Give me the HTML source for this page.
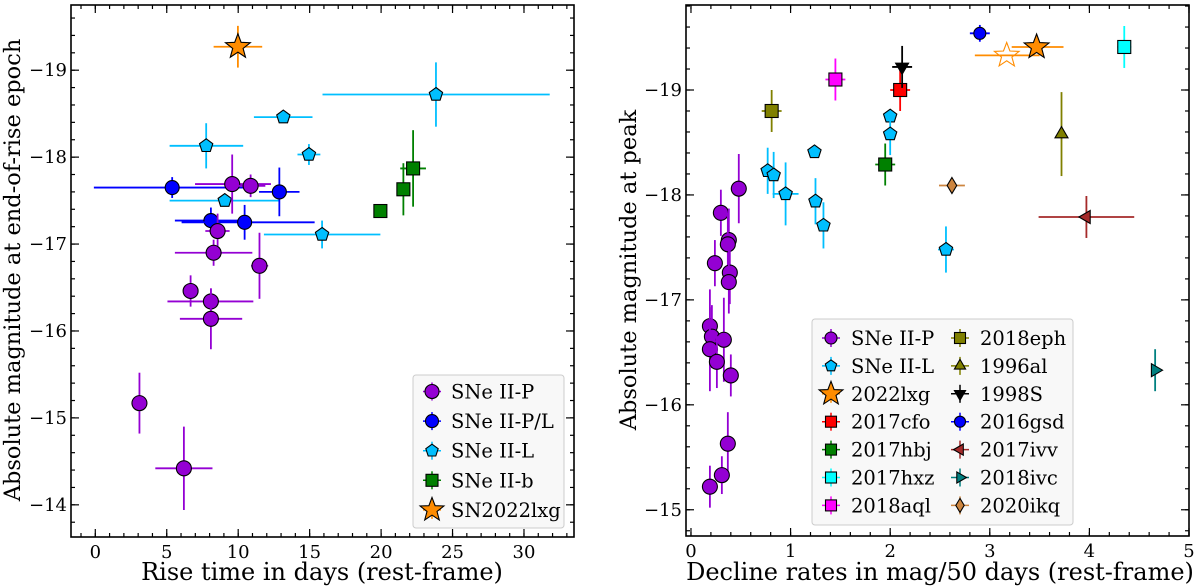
<!DOCTYPE html>
<html><head><meta charset="utf-8"><style>
body{margin:0;background:#fff;}
svg{display:block;font-family:"DejaVu Serif","Liberation Serif",serif;}
</style></head><body>
<svg id="fig" width="1200" height="586" viewBox="0 0 1200 586" xmlns="http://www.w3.org/2000/svg"></svg>
<script>
// ---------- LEFT PANEL DATA (rise time, end-of-rise magnitude) ----------
const lP_x=[9.58,10.87,8.56,8.28,11.49,6.67,8.09,8.09,3.09,6.2];
const lP_y=[-17.69,-17.67,-17.15,-16.90,-16.75,-16.46,-16.34,-16.14,-15.17,-14.42];
const lP_xlo=[6.98,9.9,7.7,5.57,10.9,6.67,5.05,5.92,3.09,4.2];
const lP_xhi=[12.29,11.9,9.4,10.99,12.1,6.67,11.06,10.28,3.09,8.2];
const lP_ye=[0.34,0.13,0.2,0.15,0.38,0.18,0.15,0.35,0.35,0.48];
const lPL_x=[5.38,12.88,8.09,10.45];
const lPL_y=[-17.65,-17.60,-17.27,-17.25];
const lPL_xlo=[-0.1,11.46,5.57,6.04];
const lPL_xhi=[10.75,14.29,10.5,15.35];
const lPL_ye=[0.12,0.28,0.15,0.2];
const lL_x=[23.84,13.16,7.76,14.95,9.06,15.87];
const lL_y=[-18.72,-18.46,-18.13,-18.03,-17.50,-17.11];
const lL_xlo=[15.9,11.1,5.2,14.15,5.2,11.8];
const lL_xhi=[31.8,15.2,10.35,15.75,12.9,19.95];
const lL_ye=[0.37,0,0.26,0.12,0,0.16];
const lb_x=[19.95,21.56,22.24];
const lb_y=[-17.38,-17.63,-17.87];
const lb_xe=[0.3,0,0.9];
const lb_ye=[0,0.3,0.44];
const lS_x=[9.98], lS_y=[-19.27], lS_xe=[1.7], lS_ye=[0.24];
const lXticks=[0,5,10,15,20,25,30];
const lYticks=[-19,-18,-17,-16,-15,-14];

// ---------- RIGHT PANEL DATA (decline rate, peak magnitude) ----------
const rP_x=[0.48,0.30,0.38,0.37,0.24,0.39,0.38,0.19,0.21,0.19,0.33,0.26,0.40,0.37,0.31,0.19];
const rP_y=[-18.06,-17.83,-17.57,-17.53,-17.35,-17.26,-17.17,-16.75,-16.65,-16.53,-16.62,-16.41,-16.28,-15.63,-15.33,-15.22];
const rP_ye=[0.33,0.22,0.3,0.3,0.22,0.3,0.3,0.35,0.3,0.4,0.4,0.25,0.2,0.3,0.18,0.2];
const rL_x=[2.0,2.0,1.24,0.77,0.83,0.95,1.25,1.33,2.56];
const rL_y=[-18.75,-18.58,-18.41,-18.23,-18.19,-18.01,-17.94,-17.71,-17.48];
const rL_xe=[0,0,0,0,0,0.13,0,0,0.08];
const rL_ye=[0,0.2,0,0.22,0.22,0.3,0.22,0.22,0.22];
const rNames=["2022lxg","2017cfo","2017hbj","2017hxz","2018aql","2018eph","1996al","1998S","2016gsd","2017ivv","2018ivc","2020ikq"];
const rObj_x=[3.47,2.10,1.95,4.35,1.45,0.81,3.72,2.12,2.90,3.97,4.66,2.62];
const rObj_y=[-19.41,-19.0,-18.29,-19.41,-19.10,-18.80,-18.58,-19.22,-19.54,-17.79,-16.33,-18.09];
const rObj_xlo=[3.22,2.0,1.85,4.28,1.35,0.71,3.72,2.02,2.8,3.49,4.66,2.49];
const rObj_xhi=[3.74,2.2,2.05,4.42,1.55,0.91,3.72,2.22,3.0,4.45,4.66,2.75];
const rObj_ye=[0,0.2,0.2,0.2,0.2,0.2,0.4,0.2,0.08,0.2,0.2,0];
const rOpen_x=[3.17], rOpen_y=[-19.33], rOpen_xlo=[2.85], rOpen_xhi=[3.50];
const rXticks=[0,1,2,3,4,5];
const rYticks=[-19,-18,-17,-16,-15];

const NS="http://www.w3.org/2000/svg";
const svg=document.getElementById('fig');
function el(tag,attrs,parent){const e=document.createElementNS(NS,tag);for(const k in attrs)e.setAttribute(k,attrs[k]);(parent||svg).appendChild(e);return e;}

function makePanel(name,x0,x1,y0,y1,xmin,xmax,ymin,ymax){
  const g=el('g',{});
  
  
  const sx=v=>x0+(v-xmin)/(xmax-xmin)*(x1-x0);
  const sy=v=>y0+(v-ymin)/(ymax-ymin)*(y1-y0);
  return {g,sx,sy,x0,x1,y0,y1};
}
function ticks(p,xt,xminor,yt,yminor,fmtx){
  const tg=el('g',{stroke:'#000','stroke-width':1.2},p.g);
  
  
  xminor.forEach(v=>{const x=p.sx(v);if(x<p.x0||x>p.x1)return;el('line',{x1:x,x2:x,y1:p.y1,y2:p.y1-4},tg);el('line',{x1:x,x2:x,y1:p.y0,y2:p.y0+4},tg);});
  yminor.forEach(v=>{const y=p.sy(v);if(y<p.y0||y>p.y1)return;el('line',{x1:p.x0,x2:p.x0+4,y1:y,y2:y},tg);el('line',{x1:p.x1,x2:p.x1-4,y1:y,y2:y},tg);});
  xt.forEach(v=>{const x=p.sx(v);el('line',{x1:x,x2:x,y1:p.y1,y2:p.y1-8},tg);el('line',{x1:x,x2:x,y1:p.y0,y2:p.y0+8},tg);
    const t=el('text',{x:x,y:p.y1+21,'text-anchor':'middle','font-size':18,fill:'#000',stroke:'none'},p.g);t.textContent=fmtx(v);
    });
  yt.forEach(v=>{const y=p.sy(v);el('line',{x1:p.x0,x2:p.x0+8,y1:y,y2:y},tg);el('line',{x1:p.x1,x2:p.x1-8,y1:y,y2:y},tg);
    const t=el('text',{x:p.x0-4,y:y+6,'text-anchor':'end','font-size':18,fill:'#000'},p.g);t.textContent='\u2212'+Math.abs(v);
    });
  const fr=el('rect',{x:p.x0,y:p.y0,width:p.x1-p.x0,height:p.y1-p.y0,fill:'none',stroke:'#000','stroke-width':1.6},p.g);
  
}
function marker(parent,shape,cx,cy,fill,s,open){
  const st={fill:open?'none':fill,stroke:open?fill:'#000','stroke-width':1.1};
  let e;
  if(shape==='o') e=el('circle',Object.assign({cx,cy,r:s},st),parent);
  else if(shape==='s') e=el('rect',Object.assign({x:cx-s,y:cy-s,width:2*s,height:2*s},st),parent);
  else {
    let pts=[];
    const poly=(n,r,rot,inner)=>{for(let i=0;i<n*(inner?2:1);i++){const rr=inner?(i%2?r*inner:r):r;const a=rot+i*Math.PI*2/(n*(inner?2:1));pts.push((cx+rr*Math.cos(a)).toFixed(1)+','+(cy+rr*Math.sin(a)).toFixed(1));}};
    if(shape==='p') poly(5,s,-Math.PI/2);
    else if(shape==='*') poly(5,s,-Math.PI/2,0.42);
    else if(shape==='^') poly(3,s,-Math.PI/2);
    else if(shape==='v') poly(3,s,Math.PI/2);
    else if(shape==='<') poly(3,s,Math.PI);
    else if(shape==='>') poly(3,s,0);
    else if(shape==='d'){pts=[`${cx},${cy-s}`,`${cx+s*0.6},${cy}`,`${cx},${cy+s}`,`${cx-s*0.6},${cy}`];}
    e=el('polygon',Object.assign({points:pts.join(' ')},st),parent);
  }
  return e;
}
function point(p,name,shape,color,s,x,y,xlo,xhi,ye,open){
  const g=el('g',{},p.g);
  
  
  if(xhi>xlo) el('line',{x1:p.sx(xlo),x2:p.sx(xhi),y1:p.sy(y),y2:p.sy(y),stroke:color,'stroke-width':1.8},g);
  if(ye>0) el('line',{x1:p.sx(x),x2:p.sx(x),y1:p.sy(y-ye),y2:p.sy(y+ye),stroke:color,'stroke-width':1.8},g);
  marker(g,shape,p.sx(x),p.sy(y),color,s,open);
}
function range(a,b,st){const r=[];for(let v=a;v<=b+1e-9;v+=st)r.push(+v.toFixed(3));return r;}

// ---------- LEFT ----------
const L=makePanel('left-panel',71,574,5,537,-1.7,33.5,-19.75,-13.63);
ticks(L,lXticks,range(-1,33,1),lYticks,range(-19.6,-13.8,0.2),v=>String(v));
lL_x.forEach((x,i)=>point(L,'sne-ii-l-point','p','#00bfff',7,x,lL_y[i],lL_xlo[i],lL_xhi[i],lL_ye[i]));
lPL_x.forEach((x,i)=>point(L,'sne-ii-pl-point','o','#0000ff',7,x,lPL_y[i],lPL_xlo[i],lPL_xhi[i],lPL_ye[i]));
lP_x.forEach((x,i)=>point(L,'sne-ii-p-point','o','#9400d3',7.5,x,lP_y[i],lP_xlo[i],lP_xhi[i],lP_ye[i]));
lb_x.forEach((x,i)=>point(L,'sne-ii-b-point','s','#008000',6.5,x,lb_y[i],x-lb_xe[i],x+lb_xe[i],lb_ye[i]));
lS_x.forEach((x,i)=>point(L,'sn2022lxg-point','*','#ff8c00',13,x,lS_y[i],x-lS_xe[i],x+lS_xe[i],lS_ye[i]));
(function(){
  const g=el('g',{},L.g);
  el('rect',{x:413,y:375,width:151,height:153,rx:3,fill:'#f8f8f8',stroke:'#ccc','stroke-width':1},g);
  const items=[['SNe II-P','o','#9400d3',7],['SNe II-P/L','o','#0000ff',6.5],['SNe II-L','p','#00bfff',6.5],['SNe II-b','s','#008000',6],['SN2022lxg','*','#ff8c00',12.5]];
  items.forEach((it,i)=>{const y=391.5+i*29.6;const e=el('g',{},g);
    
    el('line',{x1:423,x2:441,y1:y,y2:y,stroke:it[2],'stroke-width':1.5},e);el('line',{x1:432,x2:432,y1:y-9,y2:y+9,stroke:it[2],'stroke-width':1.5},e);
    marker(e,it[1],432,y,it[2],it[3]);
    const t=el('text',{x:451,y:y+7,'font-size':19.5},e);t.textContent=it[0];});
})();
let t1=el('text',{x:322,y:580,'text-anchor':'middle','font-size':24});t1.textContent='Rise time in days (rest-frame)';

let t2=el('text',{x:0,y:0,'text-anchor':'middle','font-size':22.5,transform:'translate(20,270) rotate(-90)'});t2.textContent='Absolute magnitude at end-of-rise epoch';


// ---------- RIGHT ----------
const R=makePanel('right-panel',686,1189,5,536,-0.05,5.0,-19.81,-14.75);
ticks(R,rXticks,range(0,5,0.2),rYticks,range(-19.8,-14.8,0.2),v=>String(v));
const rShapes=['*','s','s','s','s','s','^','v','o','<','>','d'];
const rCols=['#ff8c00','#ff0000','#008000','#00ffff','#ff00ff','#808000','#808000','#000000','#0000ff','#a52a2a','#008080','#cd853f'];
const rSizes=[13,6.5,6.5,6.5,6.5,6.5,7.5,7.5,6,7.5,7.5,8];
rL_x.forEach((x,i)=>point(R,'sne-ii-l-point','p','#00bfff',7,x,rL_y[i],x-rL_xe[i],x+rL_xe[i],rL_ye[i]));
rP_x.forEach((x,i)=>point(R,'sne-ii-p-point','o','#9400d3',7.5,x,rP_y[i],x,x,rP_ye[i]));
rOpen_x.forEach((x,i)=>point(R,'sn2022lxg-alt-point','*','#ff8c00',13,x,rOpen_y[i],rOpen_xlo[i],rOpen_xhi[i],0,true));
rObj_x.forEach((x,i)=>point(R,'sn'+rNames[i]+'-point',rShapes[i],rCols[i],rSizes[i],x,rObj_y[i],rObj_xlo[i],rObj_xhi[i],rObj_ye[i]));
(function(){
  const g=el('g',{},R.g);
  el('rect',{x:812,y:319,width:261,height:206,rx:3,fill:'#f8f8f8',stroke:'#ccc','stroke-width':1},g);
  const items=[['SNe II-P','o','#9400d3',6],['SNe II-L','p','#00bfff',6]];
  const legSizes=[12.5,5.5,5.5,5.5,5.5,5.5,6.5,6.5,5.5,6.5,6.5,7];
  rNames.forEach((n,i)=>items.push([n,rShapes[i],rCols[i],legSizes[i]]));
  items.forEach((it,i)=>{const col=i<7?0:1,row=i<7?i:i-7;const x=col?960:831,y=338+row*27.9;const e=el('g',{},g);
    
    el('line',{x1:x-9,x2:x+9,y1:y,y2:y,stroke:it[2],'stroke-width':1.5},e);el('line',{x1:x,x2:x,y1:y-9,y2:y+9,stroke:it[2],'stroke-width':1.5},e);
    marker(e,it[1],x,y,it[2],it[3]);
    const t=el('text',{x:x+20,y:y+7,'font-size':19.5},e);t.textContent=it[0];});
})();
let t3=el('text',{x:940,y:580,'text-anchor':'middle','font-size':24});t3.textContent='Decline rates in mag/50 days (rest-frame)';

let t4=el('text',{x:0,y:0,'text-anchor':'middle','font-size':22.5,transform:'translate(636,270) rotate(-90)'});t4.textContent='Absolute magnitude at peak';

</script>
</body></html>
